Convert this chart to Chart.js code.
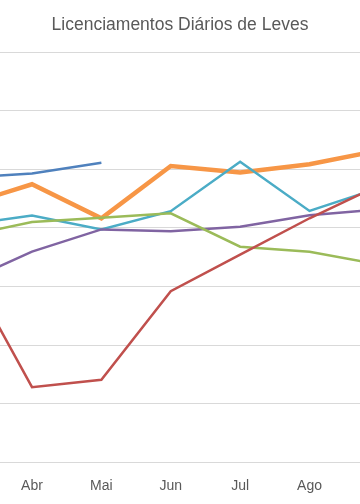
<!DOCTYPE html>
<html>
<head>
<meta charset="utf-8">
<script src="https://cdn.jsdelivr.net/npm/chart.js@4/dist/chart.umd.min.js"></script>
<style>
  html, body { margin: 0; padding: 0; background: #fff; }
  #wrap { width: 360px; height: 504px; }
</style>
</head>
<body>
<div id="wrap"><canvas id="grafico"></canvas></div>
<script>
// Meses (Mar e Set ficam parcialmente fora do recorte)
const meses = ['Mar', 'Abr', 'Mai', 'Jun', 'Jul', 'Ago', 'Set'];

// Médias diárias de licenciamentos por série
const serie2021 = [9700, 9860, 10220, null, null, null, null];
const serie2020 = [6880, 2570, 2820, 5840, 7090, 8330, 9450];
const serie2019 = [7710, 8200, 8350, 8500, 7360, 7190, 6750];
const serie2018 = [6120, 7190, 7950, 7890, 8040, 8430, 8630];
const serie2017 = [8090, 8420, 7950, 8570, 10260, 8580, 9360];
const serie2016 = [8750, 9490, 8330, 10110, 9890, 10170, 10640];

// Eixo Y
const yMin = 0;
const yMax = 14000;
const yPasso = 2000;

// Converte a série para pontos {x, y} usando o índice do mês
function pontos(valores) {
    return valores.map((v, i) => ({ x: i, y: v }));
}

const ctx = document.getElementById('grafico').getContext('2d');
new Chart(ctx, {
    type: 'line',
    data: {
        datasets: [
            { label: '2021', data: pontos(serie2021), borderColor: '#4F81BD', borderWidth: 2.5 },
            { label: '2020', data: pontos(serie2020), borderColor: '#C0504D', borderWidth: 2.5 },
            { label: '2019', data: pontos(serie2019), borderColor: '#9BBB59', borderWidth: 2.5 },
            { label: '2018', data: pontos(serie2018), borderColor: '#8064A2', borderWidth: 2.5 },
            { label: '2017', data: pontos(serie2017), borderColor: '#4BACC6', borderWidth: 2.5 },
            { label: '2016', data: pontos(serie2016), borderColor: '#F79646', borderWidth: 4.5 }
        ]
    },
    options: {
        responsive: true,
        maintainAspectRatio: false,
        animation: false,
        layout: { padding: 0 },
        elements: {
            point: { radius: 0 },
            line: { tension: 0, borderCapStyle: 'butt', borderJoinStyle: 'miter' }
        },
        plugins: {
            legend: { display: false },
            tooltip: { enabled: false },
            title: {
                display: true,
                text: 'Licenciamentos Diários de Leves',
                color: '#595959',
                font: { family: 'Liberation Sans', size: 17.5, weight: 'normal' },
                padding: { top: 15, bottom: 16 }
            }
        },
        scales: {
            x: {
                type: 'linear',
                min: 0.5387,
                max: 5.7277,
                afterBuildTicks: function (scale) {
                    scale.ticks = [1, 2, 3, 4, 5].map(v => ({ value: v }));
                },
                afterFit: function (scale) { scale.height = 41.5; },
                ticks: {
                    color: '#595959',
                    font: { family: 'Liberation Sans', size: 14 },
                    padding: 7,
                    maxRotation: 0,
                    autoSkip: false,
                    callback: function (value) { return meses[value]; }
                },
                grid: { display: false },
                border: { display: true, color: '#D9D9D9', width: 1 }
            },
            y: {
                min: yMin,
                max: yMax,
                ticks: { display: false, stepSize: yPasso },
                grid: { color: '#D9D9D9', lineWidth: 1, drawTicks: false },
                border: { display: false },
                afterFit: function (scale) { scale.width = 0; }
            }
        }
    }
});
</script>
</body>
</html>
